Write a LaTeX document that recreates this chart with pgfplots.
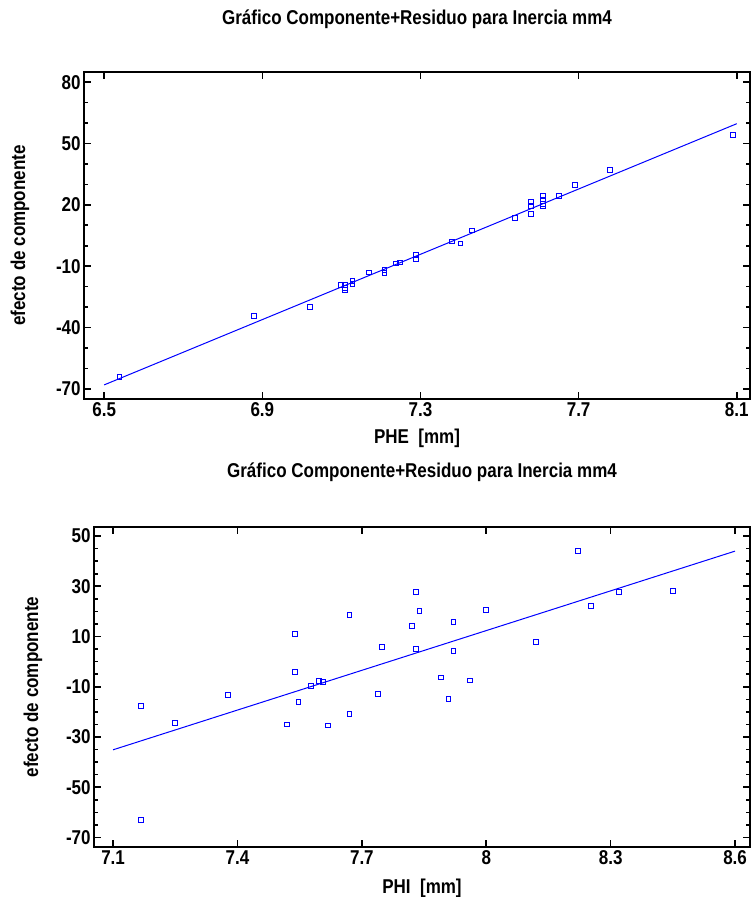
\documentclass[border=0pt]{standalone}
\usepackage{pgfplots}
\pgfplotsset{compat=1.18}
\usepackage{fontspec}
\setmainfont[FakeStretch=0.85]{Liberation Sans}
\definecolor{ptblue}{RGB}{0,0,255}

\pgfplotsset{
  crplot/.style={
    scale only axis,
    axis line style={line width=1pt},
    tick style={black, line width=0.8pt},
    major tick length=3.5pt,
    minor tick length=1.8pt,
    tick align=inside,
    xtick pos=both, ytick pos=both,
    font=\fontsize{10}{12}\selectfont\bfseries,
    tick label style={font=\fontsize{10}{12}\selectfont\bfseries},
    xticklabel style={inner sep=1.5pt},
    yticklabel style={inner sep=1.5pt},
    /pgf/number format/assume math mode=true,
    title style={at={(0.5,1)}, anchor=center, font=\fontsize{10}{12}\selectfont\bfseries},
    xlabel style={at={(0.5,0)}, anchor=center},
    ylabel style={anchor=center, rotate=0},
  },
}

\begin{document}
\begin{tikzpicture}
\useasboundingbox (0,0) rectangle (375pt,-448.5pt);

% upper panel
\begin{axis}[crplot,
  at={(42pt,-199.5pt)}, anchor=south west,
  width=333pt, height=163.5pt,
  xmin=6.449, xmax=8.1335, ymin=-75, ymax=85,
  xtick={6.5,6.9,7.3,7.7,8.1},
  ytick={-70,-40,-10,20,50,80},
  minor ytick={-60,-50,-30,-20,0,10,30,40,60,70},
  title={Gráfico Componente+Residuo para Inercia mm4},
  title style={yshift=20.5pt},
  xlabel={PHE\ \ [mm]},
  xlabel style={yshift=-19.5pt},
  ylabel={efecto de componente},
  ylabel style={at={(axis description cs:-0.096,0.5)}},
]
\addplot[ptblue, line width=0.5pt] coordinates {(6.5,-68.1) (8.1,59.7)};
\addplot[only marks, mark=square, mark size=1.2pt, mark options={ptblue, line width=0.5pt}] coordinates {
(6.539,-64.3) (6.879,-34.2) (7.020,-30.0) (7.099,-19.4) (7.109,-19.4)
(7.109,-21.5) (7.109,-20.6) (7.128,-17.3) (7.128,-18.6) (7.170,-13.1)
(7.209,-11.8) (7.209,-13.2) (7.238,-8.7) (7.249,-8.2) (7.289,-4.5)
(7.289,-6.6) (7.380,2.1) (7.401,1.1) (7.430,7.4) (7.540,13.6)
(7.580,15.6) (7.580,21.4) (7.580,19.6) (7.610,24.5) (7.610,22.6)
(7.610,20.6) (7.610,19.3) (7.651,24.2) (7.691,29.9) (7.780,37.2)
(8.090,54.3)
};
\end{axis}

% lower panel
\begin{axis}[crplot,
  at={(47pt,-423.5pt)}, anchor=south west,
  width=328pt, height=160pt,
  xmin=7.054, xmax=8.636, ymin=-73.8, ymax=53.6,
  xtick={7.1,7.4,7.7,8,8.3,8.6},
  ytick={-70,-50,-30,-10,10,30,50},
  minor y tick num=3,
  title={Gráfico Componente+Residuo para Inercia mm4},
  title style={yshift=21.5pt},
  xlabel={PHI\ \ [mm]},
  xlabel style={yshift=-20.5pt},
  ylabel={efecto de componente},
  ylabel style={at={(axis description cs:-0.093,0.5)}},
]
\addplot[ptblue, line width=0.5pt] coordinates {(7.1,-35.1) (8.6,44.0)};
\addplot[only marks, mark=square, mark size=1.2pt, mark options={ptblue, line width=0.5pt}] coordinates {
(7.168,-17.7) (7.168,-63.2) (7.249,-24.3) (7.378,-13.2) (7.520,-25.0)
(7.538,10.85) (7.538,-4.0) (7.547,-16.2) (7.578,-9.7) (7.597,-7.7)
(7.607,-8.1) (7.618,-25.4) (7.670,18.5) (7.670,-20.7) (7.739,-12.8)
(7.749,5.9) (7.820,14.3) (7.831,27.7) (7.831,5.1) (7.839,20.0)
(7.891,-6.3) (7.909,-14.8) (7.921,15.8) (7.921,4.35) (7.960,-7.5)
(7.999,20.4) (8.120,7.9) (8.222,44.2) (8.252,22.0) (8.321,27.7)
(8.451,28.1)
};
\end{axis}
\end{tikzpicture}
\end{document}
